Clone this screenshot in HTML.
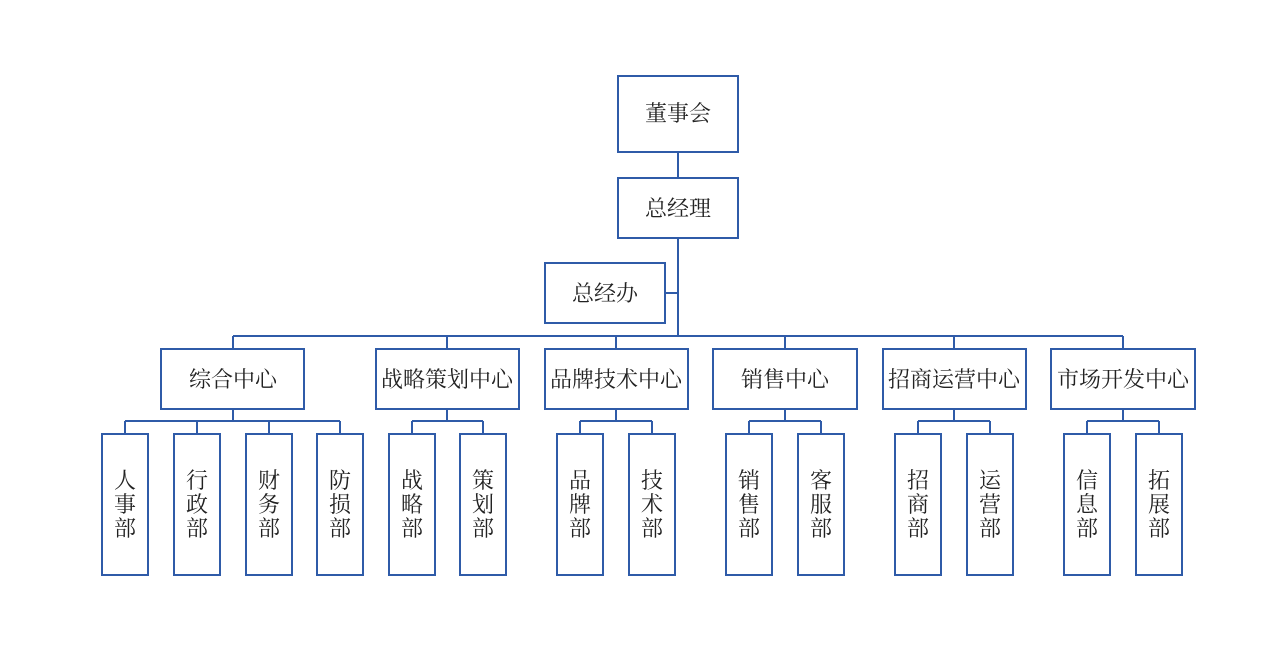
<!DOCTYPE html>
<html><head><meta charset="utf-8"><style>body{margin:0;background:#fff}</style></head><body>
<svg width="1270" height="660" xmlns="http://www.w3.org/2000/svg" font-family="'Liberation Serif','Noto Serif CJK SC','Noto Sans CJK SC',serif" font-size="22" fill="#222">
<g stroke="#2f5ba8" stroke-width="2" fill="none">
<rect x="618" y="76" width="120" height="76"/>
<rect x="618" y="178" width="120" height="60"/>
<rect x="545" y="263" width="120" height="60"/>
<line x1="678" y1="152" x2="678" y2="178"/>
<line x1="678" y1="238" x2="678" y2="336"/>
<line x1="665" y1="293" x2="678" y2="293"/>
<line x1="233" y1="336" x2="1123" y2="336"/>
<rect x="161" y="349" width="143" height="60"/>
<rect x="376" y="349" width="143" height="60"/>
<rect x="545" y="349" width="143" height="60"/>
<rect x="713" y="349" width="144" height="60"/>
<rect x="883" y="349" width="143" height="60"/>
<rect x="1051" y="349" width="144" height="60"/>
<path d="M233 336V349M447 336V349M616 336V349M785 336V349M954 336V349M1123 336V349"/>
<path d="M233 409V421M125 421H340M125 421V434M197 421V434M269 421V434M340 421V434"/>
<path d="M447 409V421M412 421H483M412 421V434M483 421V434"/>
<path d="M616 409V421M580 421H652M580 421V434M652 421V434"/>
<path d="M785 409V421M749 421H821M749 421V434M821 421V434"/>
<path d="M954 409V421M918 421H990M918 421V434M990 421V434"/>
<path d="M1123 409V421M1087 421H1159M1087 421V434M1159 421V434"/>
<rect x="102" y="434" width="46" height="141"/>
<rect x="174" y="434" width="46" height="141"/>
<rect x="246" y="434" width="46" height="141"/>
<rect x="317" y="434" width="46" height="141"/>
<rect x="389" y="434" width="46" height="141"/>
<rect x="460" y="434" width="46" height="141"/>
<rect x="557" y="434" width="46" height="141"/>
<rect x="629" y="434" width="46" height="141"/>
<rect x="726" y="434" width="46" height="141"/>
<rect x="798" y="434" width="46" height="141"/>
<rect x="895" y="434" width="46" height="141"/>
<rect x="967" y="434" width="46" height="141"/>
<rect x="1064" y="434" width="46" height="141"/>
<rect x="1136" y="434" width="46" height="141"/>
</g>
<g text-anchor="middle">
<text x="678" y="121">董事会</text>
<text x="678" y="216">总经理</text>
<text x="605" y="301">总经办</text>
<text x="233" y="387">综合中心</text>
<text x="447" y="387">战略策划中心</text>
<text x="616" y="387">品牌技术中心</text>
<text x="785" y="387">销售中心</text>
<text x="954" y="387">招商运营中心</text>
<text x="1123" y="387">市场开发中心</text>
</g>
<g text-anchor="middle">
<text x="125" y="488">人<tspan x="125" dy="24">事</tspan><tspan x="125" dy="24">部</tspan></text>
<text x="197" y="488">行<tspan x="197" dy="24">政</tspan><tspan x="197" dy="24">部</tspan></text>
<text x="269" y="488">财<tspan x="269" dy="24">务</tspan><tspan x="269" dy="24">部</tspan></text>
<text x="340" y="488">防<tspan x="340" dy="24">损</tspan><tspan x="340" dy="24">部</tspan></text>
<text x="412" y="488">战<tspan x="412" dy="24">略</tspan><tspan x="412" dy="24">部</tspan></text>
<text x="483" y="488">策<tspan x="483" dy="24">划</tspan><tspan x="483" dy="24">部</tspan></text>
<text x="580" y="488">品<tspan x="580" dy="24">牌</tspan><tspan x="580" dy="24">部</tspan></text>
<text x="652" y="488">技<tspan x="652" dy="24">术</tspan><tspan x="652" dy="24">部</tspan></text>
<text x="749" y="488">销<tspan x="749" dy="24">售</tspan><tspan x="749" dy="24">部</tspan></text>
<text x="821" y="488">客<tspan x="821" dy="24">服</tspan><tspan x="821" dy="24">部</tspan></text>
<text x="918" y="488">招<tspan x="918" dy="24">商</tspan><tspan x="918" dy="24">部</tspan></text>
<text x="990" y="488">运<tspan x="990" dy="24">营</tspan><tspan x="990" dy="24">部</tspan></text>
<text x="1087" y="488">信<tspan x="1087" dy="24">息</tspan><tspan x="1087" dy="24">部</tspan></text>
<text x="1159" y="488">拓<tspan x="1159" dy="24">展</tspan><tspan x="1159" dy="24">部</tspan></text>
</g>
</svg>
</body></html>
